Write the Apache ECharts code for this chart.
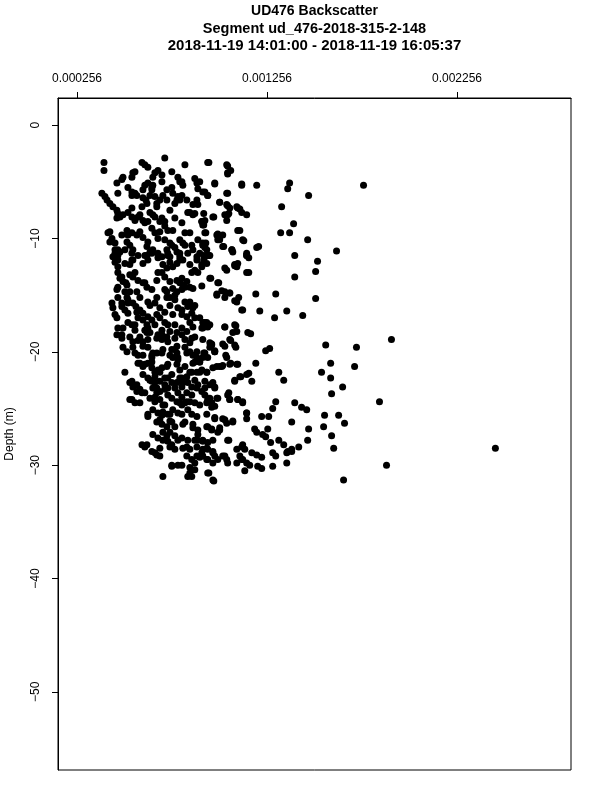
<!DOCTYPE html>
<html><head><meta charset="utf-8">
<script src="https://cdn.jsdelivr.net/npm/echarts@6/dist/echarts.min.js"></script>
<style>html,body{margin:0;padding:0;background:#fff}#c{width:600px;height:800px}</style>
</head><body><div id="c"></div>
<script>
const titleLines = [
  'UD476 Backscatter',
  'Segment ud_476-2018-315-2-148',
  '2018-11-19 14:01:00 - 2018-11-19 16:05:37'
];
const xTicks = [0.000256, 0.001256, 0.002256];
const yTicks = [0, -10, -20, -30, -40, -50];
const yName = 'Depth (m)';

const backscatter = [
0.000398,0.000398,0.000598,0.000613,0.000629,0.000718,0.000824,0.000944,0.001049,0.001049,
0.000466,0.000492,0.000550,0.000545,0.000666,0.000655,0.000703,0.000755,0.000787,0.000797,
0.000876,0.000887,0.000892,0.000981,0.001123,0.000387,0.000414,0.000429,0.000445,0.000471,
0.000524,0.000545,0.000571,0.000603,0.000629,0.000650,0.000603,0.000624,0.000666,0.000676,
0.000729,0.000760,0.000787,0.000797,0.000834,0.000887,0.000892,0.000929,0.000944,0.001044,
0.001007,0.001044,0.001060,0.001102,0.001123,0.000466,0.000466,0.000498,0.000545,0.000561,
0.000577,0.000640,0.000655,0.000703,0.000718,0.000603,0.000613,0.000745,0.000808,0.000850,
0.000866,0.000913,0.000971,0.001049,0.001044,0.001102,0.000419,0.000440,0.000456,0.000492,
0.000519,0.000545,0.000587,0.000603,0.000650,0.000666,0.000682,0.000718,0.000745,0.000760,
0.000797,0.000824,0.000850,0.000892,0.000929,0.000918,0.000992,0.001007,0.001023,0.001128,
0.001071,0.000456,0.000471,0.000508,0.000550,0.000577,0.000624,0.000640,0.000682,0.000729,
0.000745,0.000797,0.000866,0.000887,0.000939,0.001149,0.000456,0.000482,0.000545,0.000624,
0.000650,0.000703,0.000734,0.000782,0.000797,0.000839,0.000902,0.000929,0.001076,0.001149,
0.000456,0.000471,0.000508,0.000550,0.000603,0.000629,0.000708,0.000745,0.000760,0.000797,
0.000850,0.000876,0.000892,0.000939,0.001086,0.001097,0.001044,0.001149,0.000482,0.000498,
0.000519,0.000471,0.000550,0.000577,0.000603,0.000624,0.000676,0.000703,0.000718,0.000745,
0.000782,0.000808,0.000850,0.000955,0.000997,0.001034,0.001060,0.001097,0.000992,0.001128,
0.000466,0.000471,0.000508,0.000519,0.000524,0.000571,0.000587,0.000650,0.000729,0.000760,
0.000782,0.000808,0.000824,0.000729,0.000771,0.000866,0.000440,0.000445,0.000492,0.000508,
0.000524,0.000571,0.000640,0.000666,0.000745,0.000787,0.000808,0.000850,0.000866,0.000760,
0.000834,0.000902,0.000918,0.000955,0.000466,0.000524,0.000545,0.000561,0.000577,0.000603,
0.000498,0.000613,0.000640,0.000666,0.000703,0.000745,0.000771,0.000808,0.000834,0.000850,
0.000913,0.001034,0.001086,0.001097,0.000466,0.000492,0.000534,0.000550,0.000587,0.000603,
0.000629,0.000676,0.000703,0.000771,0.000860,0.000918,0.000955,0.001060,0.001086,0.001155,
0.000498,0.000550,0.000603,0.000629,0.000650,0.000676,0.000708,0.000755,0.000782,0.000824,
0.000834,0.000887,0.000955,0.000981,0.001034,0.000519,0.000561,0.000603,0.000650,0.000703,
0.000745,0.000782,0.000787,0.000850,0.000887,0.000902,0.000929,0.000944,0.000981,0.001044,
0.000587,0.000603,0.000650,0.000703,0.000734,0.000782,0.000797,0.000866,0.000913,0.000992,
0.001018,0.001060,0.001097,0.000508,0.000603,0.000629,0.000650,0.000666,0.000692,0.000718,
0.000755,0.000808,0.000834,0.000860,0.000887,0.000939,0.001086,0.001113,0.001149,0.000545,
0.000571,0.000587,0.000613,0.000676,0.000692,0.000734,0.000782,0.000808,0.000839,0.000860,
0.000887,0.000929,0.000955,0.000981,0.000834,0.000860,0.000534,0.000587,0.000666,0.000692,
0.000708,0.000734,0.000755,0.000782,0.000797,0.000824,0.000850,0.000902,0.000944,0.000965,
0.000981,0.000997,0.001049,0.001060,0.001102,0.001128,0.000655,0.000682,0.000629,0.000708,
0.000734,0.000760,0.000787,0.000839,0.000860,0.000887,0.000939,0.000981,0.001034,0.001076,
0.001149,0.000676,0.000703,0.000729,0.000755,0.000824,0.000866,0.000892,0.000944,0.000965,
0.001007,0.000655,0.000682,0.000708,0.000745,0.000771,0.000808,0.000839,0.000892,0.000918,
0.000971,0.001049,0.001128,0.000598,0.000613,0.000650,0.000676,0.000692,0.000745,0.000771,
0.000813,0.000850,0.000887,0.000902,0.000944,0.000971,0.000997,0.001023,0.001044,0.001113,
0.001149,0.001097,0.000755,0.000787,0.000850,0.000876,0.000839,0.000944,0.000971,0.000708,
0.000950,0.001044,0.001065,0.001049,0.000902,0.000981,0.001123,0.001202,0.001375,0.001365,
0.001764,0.000918,0.000944,0.001049,0.001475,0.001007,0.001049,0.001097,0.001113,0.001333,
0.000923,0.000976,0.001034,0.001055,0.001149,0.000913,0.000923,0.001396,0.001113,0.000934,
0.000997,0.001023,0.001328,0.001375,0.000997,0.001134,0.001470,0.000934,0.001028,0.001071,
0.001212,0.001202,0.001622,0.000929,0.000923,0.000950,0.001149,0.001160,0.001402,0.001522,
0.000923,0.001034,0.001086,0.001102,0.001160,0.001512,0.000913,0.001402,0.000960,0.001002,
0.000913,0.000992,0.001034,0.001018,0.001060,0.001086,0.001107,0.001197,0.001302,0.001512,
0.001123,0.001218,0.001296,0.001360,0.001444,0.000939,0.000944,0.000918,0.001034,0.001092,
0.001076,0.001065,0.001092,0.001170,0.000965,0.001023,0.000981,0.001565,0.001727,0.001911,
0.000923,0.000918,0.000902,0.001039,0.001249,0.001270,0.000971,0.001007,0.001023,0.001065,
0.001102,0.001197,0.001591,0.001717,0.000939,0.001160,0.001118,0.001086,0.001176,0.001318,
0.001344,0.001543,0.001591,0.001654,0.000971,0.000981,0.000929,0.001055,0.001060,0.001102,
0.001128,0.001596,0.001848,0.000955,0.000939,0.000992,0.001302,0.001286,0.001402,0.001438,
0.001465,0.000965,0.000981,0.001023,0.001076,0.001044,0.001149,0.001149,0.001228,0.001265,
0.001386,0.001559,0.001633,0.001664,0.001554,0.001475,0.000939,0.000965,0.001007,0.000997,
0.001191,0.001202,0.001260,0.001596,0.001233,0.001249,0.000918,0.000944,0.001055,0.001123,
0.001139,0.001275,0.001318,0.001344,0.001386,0.001365,0.001423,0.001470,0.001607,0.002458,
0.000918,0.000939,0.000971,0.000981,0.001034,0.001049,0.001097,0.001123,0.001176,0.001202,
0.001228,0.001286,0.001302,0.001360,0.001386,0.000939,0.000971,0.001128,0.001165,0.001139,
0.001207,0.001228,0.001286,0.001360,0.000950,0.000976,0.001885,0.001659,
0.000498,0.000561,0.000682,0.000808,0.000813,0.000545,0.000561,0.000613,0.000655,0.000650,
0.000640,0.000619,0.000598,0.000703,0.000708,0.000692,0.000676,0.000755,0.000729,0.000808,
0.000782,0.000771,0.000866,0.000403,0.000471,0.000482,0.000524,0.000545,0.000587,0.000629,
0.000666,0.000692,0.000718,0.000734,0.000771,0.000839,0.000876,0.000929,0.000918,0.000429,
0.000524,0.000571,0.000692,0.000824,
0.000429,0.000471,0.000519,0.000534,0.000629,0.000755,
0.000771,0.000813,0.000860,0.000918,0.000955,0.000445,0.000471,0.000545,0.000534,0.000613,
0.000655,0.000682,0.000734,0.000782,0.000813,0.000887,0.000913,0.000471,0.000492,0.000513,
0.000534,0.000561,0.000613,0.000682,0.000729,0.000797,0.000813,0.000834,0.000860,0.000718,
0.000534,0.000492,0.000524,0.000550,0.000566,0.000587,0.000629,0.000676,0.000692,0.000718,
0.000745,0.000771,0.000824,0.000839,0.000876,0.000456,0.000603,0.000629,0.000650,0.000676,
0.000692,0.000808,0.000860,0.000876,0.000929,0.000471,0.000561,0.000624,0.000629,0.000718,
0.000734,0.000866,
0.000492,0.000577,0.000624,0.000682,0.000703,0.000729,0.000734,0.000782,
0.000808,0.000824,0.000850,0.000876,0.000577,0.000655,0.000771,0.000787,0.000760,0.000866,
0.000965,0.000577,0.000613,0.000629,0.000650,0.000666,0.000682,0.000729,0.000824,0.000876,
0.000640,0.000666,0.000692,0.000718,0.000734,0.000755,0.000797,0.000813,0.000850,0.000902,
0.000876,0.000892,0.000534,0.000550,0.000571,0.000598,0.000655,0.000676,0.000718,0.000771,
0.000787,0.000808,0.000913,0.000929,0.000545,0.000561,0.000640,0.000666,0.000718,0.000808,
0.000834,0.000876,0.000955,
0.000629,0.000703,0.000745,0.000808,0.000692,0.000745,0.000771,
0.000813,0.000866,0.000708,0.000729,0.000734,0.000755,0.000787,0.000834,0.000892,0.000876,
0.000887,0.000913,0.000624,0.000666,0.000692,0.000755,0.000808,0.000850,0.000860,0.000834,
0.000860,0.000876,0.000918,0.000944
];

const depth = [
-3.3,-4.0,-3.3,-3.5,-3.7,-2.9,-3.5,-3.3,-3.6,-4.2,
-5.1,-4.8,-4.2,-4.6,-4.2,-4.6,-4.4,-4.1,-4.6,-5.0,
-4.7,-5.1,-5.6,-5.1,-5.2,-6.0,-6.6,-6.9,-7.2,-6.0,
-5.5,-5.9,-6.2,-5.7,-5.1,-5.5,-6.4,-6.9,-6.3,-6.9,
-5.7,-6.0,-6.3,-6.6,-6.6,-6.6,-7.0,-5.9,-6.2,-6.0,
-6.8,-7.0,-7.3,-7.3,-7.7,-7.5,-8.2,-7.9,-7.3,-8.4,
-8.1,-7.7,-7.9,-8.2,-8.5,-8.4,-8.6,-7.5,-8.6,-7.7,
-7.9,-8.5,-8.1,-7.9,-8.4,-9.3,-9.5,-10.0,-10.4,-9.7,
-9.3,-9.5,-9.4,-9.9,-9.1,-9.5,-10.0,-10.1,-10.4,-9.3,
-10.1,-10.6,-9.5,-10.1,-9.5,-10.6,-9.7,-10.1,-10.7,-10.1,
-11.0,-11.0,-11.5,-11.0,-11.0,-11.5,-10.7,-11.2,-11.3,-11.0,
-11.6,-11.3,-11.0,-11.6,-11.0,-11.3,-11.3,-11.2,-11.3,-11.5,
-11.3,-11.6,-11.3,-11.2,-11.6,-11.3,-11.3,-11.6,-11.2,-11.5,
-12.1,-12.5,-12.2,-11.9,-12.2,-11.9,-12.3,-12.1,-12.5,-11.9,
-12.3,-12.8,-13.0,-12.2,-12.3,-12.5,-12.8,-13.0,-13.5,-13.8,
-14.1,-14.3,-13.4,-13.7,-13.9,-14.3,-13.7,-13.0,-13.4,-13.8,
-13.7,-13.5,-14.3,-13.5,-13.9,-14.7,-14.8,-15.6,-15.0,-16.3,
-14.5,-15.2,-14.7,-15.2,-15.7,-14.7,-15.2,-14.5,-14.7,-14.4,
-14.7,-14.5,-14.3,-15.2,-15.0,-14.4,-15.7,-16.1,-16.0,-16.3,
-16.6,-16.5,-15.9,-15.7,-15.9,-16.1,-16.3,-15.6,-16.1,-16.7,
-16.9,-17.0,-17.4,-17.6,-17.0,-17.4,-17.6,-18.1,-17.0,-17.2,
-17.9,-18.1,-18.3,-17.6,-18.1,-18.2,-17.6,-17.9,-18.2,-17.4,
-17.9,-17.8,-17.6,-18.2,-18.5,-18.8,-18.7,-19.1,-18.7,-19.1,
-18.9,-18.8,-18.5,-18.8,-18.8,-18.9,-19.2,-18.9,-19.4,-18.3,
-19.6,-19.6,-19.5,-19.6,-20.3,-20.1,-19.8,-19.8,-19.5,-19.6,
-20.1,-20.0,-19.6,-20.0,-19.5,-20.0,-20.1,-20.3,-20.5,-20.1,
-20.3,-20.1,-20.5,-20.0,-20.5,-20.9,-20.1,-20.5,-20.0,-20.5,
-21.0,-21.3,-20.9,-21.4,-21.1,-21.1,-21.6,-21.0,-21.6,-21.3,
-21.3,-21.1,-21.1,-21.8,-22.0,-22.3,-22.6,-22.7,-21.8,-22.3,
-22.0,-22.3,-22.2,-21.8,-21.8,-21.8,-22.5,-22.2,-22.0,-22.6,
-22.9,-23.3,-23.6,-23.2,-23.5,-23.2,-22.7,-23.1,-22.7,-23.1,
-23.2,-22.6,-22.9,-23.1,-23.6,-23.8,-24.2,-24.5,-24.0,-24.2,
-24.7,-23.8,-24.1,-24.4,-24.5,-24.5,-24.4,-24.7,-24.2,-24.5,
-24.8,-24.1,-23.8,-24.2,-24.2,-24.5,-25.1,-25.4,-25.7,-25.3,
-25.5,-25.1,-25.4,-25.1,-25.5,-25.7,-25.5,-25.8,-26.0,-26.2,
-25.4,-26.2,-26.4,-26.6,-26.2,-26.2,-26.7,-26.9,-26.6,-26.9,
-26.7,-27.3,-27.6,-27.8,-27.1,-27.4,-27.6,-27.8,-27.8,-27.9,
-27.8,-27.8,-28.2,-28.2,-28.4,-28.8,-29.1,-29.2,-28.4,-28.6,
-28.5,-28.6,-29.2,-29.3,-28.6,-28.9,-29.5,-29.2,-29.5,-29.2,
-29.8,-28.6,-30.1,-30.0,-30.2,-30.4,-31.0,-30.7,-31.3,-31.0,
-3.3,-3.5,-4.0,-4.3,-5.0,-5.2,-5.3,-5.3,-5.1,-5.6,
-5.3,-5.9,-6.2,-6.0,-6.2,-6.8,-7.1,-7.2,-7.4,-7.2,
-7.8,-8.1,-7.9,-7.8,-7.9,-8.5,-8.8,-8.7,-9.3,-9.5,
-9.6,-9.7,-9.5,-9.5,-10.1,-10.2,-10.1,-10.4,-10.7,-11.0,
-10.7,-10.8,-11.1,-10.8,-11.5,-11.5,-11.5,-11.7,-11.5,-12.0,
-11.9,-12.6,-12.4,-12.2,-13.0,-12.9,-12.5,-13.4,-13.5,-13.9,
-14.2,-14.9,-15.2,-14.6,-14.8,-15.5,-15.2,-14.9,-14.9,-15.3,
-16.3,-16.4,-17.0,-16.4,-16.8,-17.4,-17.8,-17.9,-17.8,-17.7,
-18.3,-19.0,-19.6,-18.4,-19.3,-19.3,-19.9,-19.4,-19.6,-18.9,
-20.1,-20.5,-20.9,-20.3,-19.9,-19.7,-21.4,-21.3,-21.2,-21.0,
-21.1,-21.0,-21.0,-21.3,-21.8,-21.9,-22.2,-22.6,-22.6,-21.8,
-22.5,-21.8,-22.3,-23.1,-22.7,-23.2,-23.2,-23.6,-24.2,-24.2,
-24.4,-23.7,-24.4,-24.1,-24.5,-24.1,-24.4,-25.0,-24.5,-24.9,
-25.1,-24.9,-25.9,-25.9,-26.1,-26.3,-25.4,-25.9,-25.7,-25.7,
-26.2,-25.6,-25.6,-26.3,-26.6,-26.8,-26.6,-26.8,-26.9,-27.1,
-26.8,-27.1,-26.8,-27.4,-27.3,-27.5,-27.8,-28.0,-27.8,-28.4,
-28.6,-28.0,-27.8,-28.2,-28.6,-28.8,-28.4,-27.8,-28.5,-28.5,
-28.6,-28.5,-28.8,-29.2,-29.2,-29.8,-29.8,-29.5,-28.9,-29.1,
-29.3,-28.9,-29.2,-28.9,-28.8,-29.5,-29.8,-29.5,-30.0,-30.5,
-30.1,-30.3,-30.1,-29.8,-30.7,-31.4,-30.0,-31.3,
-4.6,-4.1,-4.0,-5.0,-5.3,-6.2,-6.0,-5.3,-5.3,-5.7,
-6.2,-6.6,-7.2,-5.0,-6.2,-6.6,-7.2,-5.5,-6.6,-6.2,
-6.6,-6.9,-7.0,-6.3,-7.8,-8.1,-7.7,-8.1,-7.9,-8.5,
-8.1,-8.5,-8.9,-9.3,-8.2,-7.7,-7.8,-8.4,-8.8,-9.4,
-9.7,-9.7,-9.4,-9.5,
-10.3,-11.0,-10.3,-10.6,-10.3,-10.6,
-10.8,-10.4,-10.6,-10.4,-11.5,-11.6,-11.9,-11.9,-12.3,-11.5,
-11.0,-11.7,-11.5,-12.2,-11.9,-11.9,-12.3,-13.0,-13.4,-13.9,
-13.2,-13.0,-13.9,-13.0,-12.6,-13.9,-14.1,-13.8,-13.0,-14.5,
-14.7,-15.7,-15.4,-15.7,-16.0,-16.3,-15.6,-15.2,-16.1,-16.5,
-15.2,-15.4,-15.6,-16.0,-15.9,-16.7,-16.6,-16.9,-17.2,-16.7,
-17.0,-16.7,-16.6,-17.0,-17.4,-17.9,-17.6,-17.6,-17.9,-17.4,
-17.6,-17.8,
-18.5,-19.0,-18.3,-18.5,-18.9,-18.7,-19.1,-18.3,
-18.5,-18.9,-19.2,-18.7,-20.3,-20.1,-19.8,-20.7,-20.5,-20.3,
-19.4,-21.0,-21.1,-21.0,-21.4,-21.8,-21.6,-21.3,-21.3,-20.9,
-22.5,-22.2,-22.6,-22.9,-22.3,-22.7,-22.3,-22.7,-21.8,-21.8,
-22.5,-22.9,-22.7,-23.1,-23.5,-23.6,-23.2,-23.6,-23.3,-23.2,
-23.6,-24.0,-23.5,-23.8,-24.2,-24.5,-24.1,-24.4,-24.7,-24.7,
-24.4,-24.5,-24.4,
-25.5,-25.6,-25.5,-25.5,-26.0,-26.1,-26.6,
-26.4,-26.4,-27.1,-27.4,-27.9,-28.2,-27.8,-28.4,-27.3,-27.8,
-28.4,-28.9,-28.2,-28.9,-28.5,-30.0,-30.0,-30.7,-31.0,-29.2,
-29.5,-29.8,-29.2,-29.5
];

const FONT = '"Liberation Sans", Arial, Helvetica, sans-serif';
const titleSizes = [14, 14.5, 15];
const minus = v => (v < 0 ? '\u2212' + Math.abs(v) : String(v));

const chart = echarts.init(document.getElementById('c'), null, { renderer: 'canvas' });
chart.setOption({
  animation: false,
  backgroundColor: '#fff',
  graphic: titleLines.map((t, i) => ({
    type: 'text', x: 314.5, y: 11 + 17.5 * i,
    style: { text: t, align: 'center', verticalAlign: 'middle', font: 'bold ' + titleSizes[i] + 'px ' + FONT, fill: '#000' }
  })),
  grid: { left: 58, right: 29, top: 98, bottom: 30, show: true, borderColor: '#000', borderWidth: 1, outerBoundsMode: 'none', containLabel: false },
  xAxis: {
    type: 'value', position: 'top', min: 0.000156, max: 0.002856,
    axisLine: { show: true, onZero: false, lineStyle: { color: '#000', width: 1 } },
    splitLine: { show: false },
    axisTick: { show: true, customValues: xTicks, length: 6, lineStyle: { color: '#000' } },
    axisLabel: { customValues: xTicks, formatter: v => v.toFixed(6), color: '#000', fontSize: 12, fontFamily: FONT, margin: 13 }
  },
  yAxis: {
    type: 'value', min: -56.9, max: 2.4,
    name: yName, nameLocation: 'middle', nameGap: 42, nameRotate: 90,
    nameTextStyle: { color: '#000', fontSize: 12, fontFamily: FONT },
    axisLine: { show: true, onZero: false, lineStyle: { color: '#000', width: 1 } },
    splitLine: { show: false },
    axisTick: { show: true, customValues: yTicks, length: 6, lineStyle: { color: '#000' } },
    axisLabel: { customValues: yTicks, formatter: minus, rotate: 90, color: '#000', fontSize: 12, fontFamily: FONT, margin: 16 }
  },
  series: [{
    type: 'scatter',
    data: backscatter.map((x, i) => [x, depth[i]]),
    symbol: 'circle', symbolSize: 7,
    itemStyle: { color: '#000', opacity: 1 },
    emphasis: { disabled: true }
  }]
});
</script></body></html>
